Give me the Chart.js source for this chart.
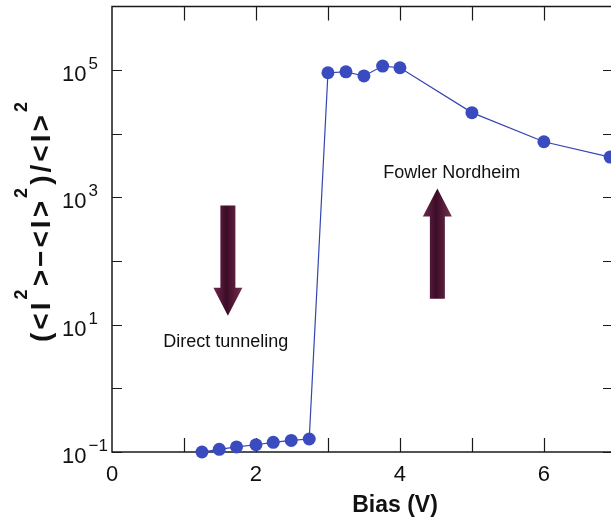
<!DOCTYPE html>
<html>
<head>
<meta charset="utf-8">
<script src="https://cdn.jsdelivr.net/npm/chart.js@4.4.0/dist/chart.umd.min.js"></script>
<style>
  html, body { margin: 0; padding: 0; background: #fff; overflow: hidden; }
</style>
</head>
<body>
<canvas id="noiseChart" width="625" height="525"></canvas>
<script>
// bias voltage (V) and normalised noise (<I^2>-<I>^2)/<I>^2
const biasV = [1.25, 1.49, 1.73, 2.0, 2.24, 2.49, 2.74, 3.0, 3.25, 3.5, 3.76, 4.0, 5.0, 6.0, 6.92];
const noiseRatio = [0.10, 0.11, 0.12, 0.13, 0.142, 0.152, 0.16, 9.1e4, 9.4e4, 8.1e4, 1.16e5, 1.09e5, 2.15e4, 7.5e3, 4.3e3];

const xTickLabels = [0, 2, 4, 6];
const xTickMarks = [1, 2, 3, 4, 5, 6];
const yLabelExps = [-1, 1, 3, 5];
const yMinorExps = [0, 2, 4];

// annotations, in data units
const arrows = [
  { x: 1.61, from: 750, to: 13.8 },
  { x: 4.52, from: 25.5, to: 1380 }
];
const notes = [
  { text: 'Direct tunneling', x: 1.58, y: 5.4 },
  { text: 'Fowler Nordheim', x: 4.72, y: 2400 }
];

const FONT = '"Liberation Sans", Arial, Helvetica, sans-serif';

function drawArrow(ctx, x, y0, y1) {
  const shaftW = 15, headW = 29, headL = 28;
  const dir = y1 > y0 ? 1 : -1;
  const yb = y1 - dir * headL;
  const g = ctx.createLinearGradient(x - headW / 2, 0, x + headW / 2, 0);
  g.addColorStop(0, '#6e2a4e');
  g.addColorStop(0.45, '#3c0c27');
  g.addColorStop(1, '#74304f');
  ctx.save();
  ctx.fillStyle = g;
  ctx.beginPath();
  ctx.moveTo(x - shaftW / 2, y0);
  ctx.lineTo(x + shaftW / 2, y0);
  ctx.lineTo(x + shaftW / 2, yb);
  ctx.lineTo(x + headW / 2, yb);
  ctx.lineTo(x, y1);
  ctx.lineTo(x - headW / 2, yb);
  ctx.lineTo(x - shaftW / 2, yb);
  ctx.closePath();
  ctx.fill();
  ctx.restore();
}

const framePlugin = {
  id: 'frame',
  beforeDatasetsDraw(chart) {
    const { ctx, chartArea: a, scales } = chart;
    ctx.save();
    ctx.strokeStyle = '#1a1a1a';
    ctx.lineWidth = 1.5;
    ctx.strokeRect(a.left, a.top, a.right - a.left, a.bottom - a.top);
    ctx.lineWidth = 1.2;
    ctx.beginPath();
    xTickMarks.forEach(v => {
      const px = Math.round(scales.x.getPixelForValue(v)) + 0.5;
      ctx.moveTo(px, a.bottom); ctx.lineTo(px, a.bottom - 14);
      ctx.moveTo(px, a.top); ctx.lineTo(px, a.top + 14);
    });
    yLabelExps.concat(yMinorExps).forEach(e => {
      const py = Math.round(scales.y.getPixelForValue(Math.pow(10, e))) + 0.5;
      ctx.moveTo(a.left, py); ctx.lineTo(a.left + 10, py);
      ctx.moveTo(a.right, py); ctx.lineTo(a.right - 10, py);
    });
    ctx.stroke();
    ctx.restore();
  },
  afterDraw(chart) {
    const { ctx, scales } = chart;
    ctx.save();
    ctx.fillStyle = '#111';

    // y tick labels 10^n
    yLabelExps.forEach(e => {
      const py = scales.y.getPixelForValue(Math.pow(10, e));
      ctx.textAlign = 'left';
      ctx.textBaseline = 'alphabetic';
      ctx.font = '22px ' + FONT;
      ctx.fillText('10', 62, py + 11);
      const w = ctx.measureText('10').width;
      ctx.font = '17px ' + FONT;
      ctx.fillText(e < 0 ? '\u2212' + Math.abs(e) : String(e), 62 + w + 2, py - 1);
    });

    // x tick labels
    ctx.font = '22px ' + FONT;
    ctx.textAlign = 'center';
    xTickLabels.forEach(v => {
      ctx.fillText(String(v), scales.x.getPixelForValue(v), 481);
    });

    // x title
    ctx.font = 'bold 23px ' + FONT;
    ctx.fillText('Bias (V)', 395, 512);

    // y title, rotated, with superscripts
    const parts = [
      ['(', 0], ['<', 0], ['I', 0], ['2', 1], ['>', 0], ['\u2212', 0], ['<', 0], ['I', 0], ['>', 0], ['2', 1],
      [')', 0], ['/', 0], ['<', 0], ['I', 0], ['>', 0], ['2', 1]
    ];
    const mainF = 'bold 28px ' + FONT, supF = 'bold 18px ' + FONT;
    let total = 0;
    const widths = parts.map(p => {
      ctx.font = p[1] ? supF : mainF;
      const w = ctx.measureText(p[0]).width;
      total += w;
      return w;
    });
    const span = 240;
    const gap = Math.max(0, (span - total) / (parts.length - 1));
    ctx.save();
    ctx.translate(50, 342);
    ctx.rotate(-Math.PI / 2);
    ctx.textAlign = 'left';
    let cx = 0;
    parts.forEach((p, i) => {
      ctx.font = p[1] ? supF : mainF;
      ctx.fillText(p[0], cx, p[1] ? -23 : 0);
      cx += widths[i] + gap;
    });
    ctx.restore();

    // annotations
    arrows.forEach(ar => {
      drawArrow(ctx, scales.x.getPixelForValue(ar.x), scales.y.getPixelForValue(ar.from), scales.y.getPixelForValue(ar.to));
    });
    ctx.fillStyle = '#111';
    ctx.font = '18px ' + FONT;
    ctx.textAlign = 'center';
    ctx.textBaseline = 'middle';
    notes.forEach(n => {
      ctx.fillText(n.text, scales.x.getPixelForValue(n.x), scales.y.getPixelForValue(n.y));
    });
    ctx.restore();
  }
};

const ctx = document.getElementById('noiseChart').getContext('2d');
const chart = new Chart(ctx, {
  type: 'line',
  data: {
    datasets: [{
      data: biasV.map((v, i) => ({ x: v, y: noiseRatio[i] })),
      borderColor: '#3445b0',
      borderWidth: 1.2,
      backgroundColor: '#3a4bc0',
      pointBackgroundColor: '#3a4bc0',
      pointBorderWidth: 0,
      pointRadius: 6.5,
      tension: 0,
      clip: false
    }]
  },
  options: {
    responsive: false,
    animation: false,
    layout: { padding: { left: 112, top: 4, right: 12, bottom: 73 } },
    plugins: { legend: { display: false }, tooltip: { enabled: false } },
    scales: {
      x: { type: 'linear', min: 0, max: 6.96, display: false },
      y: { type: 'logarithmic', min: 0.1, max: 1e6, display: false }
    }
  },
  plugins: [framePlugin]
});
</script>
</body>
</html>
